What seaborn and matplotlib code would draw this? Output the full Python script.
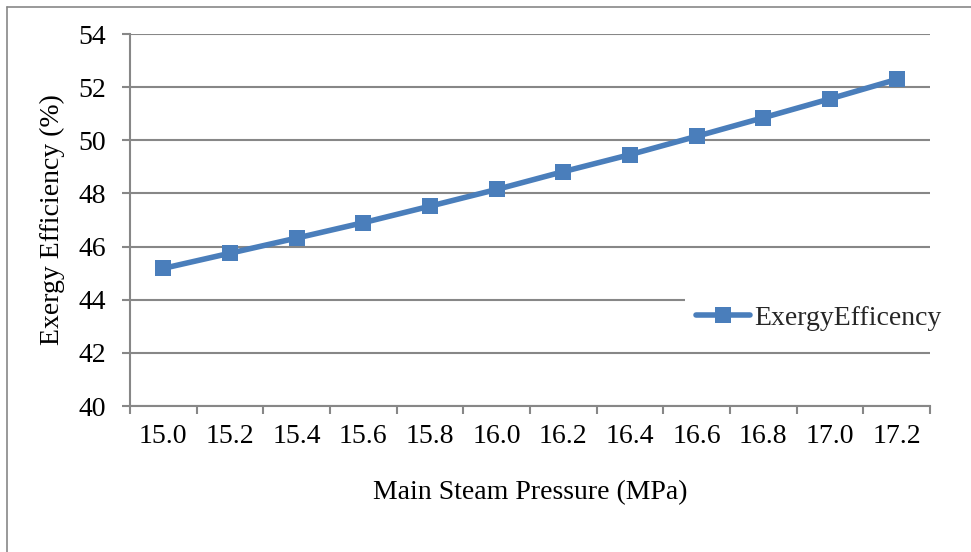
import matplotlib
matplotlib.use("Agg")
import matplotlib.pyplot as plt
from matplotlib.lines import Line2D
from matplotlib.ticker import FixedLocator
import seaborn as sns
import pandas as pd

# Main steam pressure (MPa) and the resulting exergy efficiency (%)
pressure_labels = ["15.0", "15.2", "15.4", "15.6", "15.8", "16.0",
                   "16.2", "16.4", "16.6", "16.8", "17.0", "17.2"]
exergy_efficiency = [45.18, 45.75, 46.32, 46.90, 47.52, 48.15,
                     48.82, 49.46, 50.15, 50.85, 51.56, 52.29]
y_ticks = [40, 42, 44, 46, 48, 50, 52, 54]

df = pd.DataFrame({"pressure": pressure_labels,
                   "efficiency": exergy_efficiency})

sns.set_theme(style="white")
plt.rcParams["font.family"] = ["Liberation Serif", "DejaVu Serif"]

GRAY = "#878787"
BLUE = "#4a7ebb"
FS = 20

fig = plt.figure(figsize=(9.71, 5.52), dpi=100)
ax = fig.add_axes([130 / 971, 1 - 406 / 552, 800 / 971, 372 / 552])

sns.lineplot(data=df, x="pressure", y="efficiency", ax=ax, color=BLUE,
             linewidth=4, marker="s", markersize=11, markeredgewidth=0,
             label="ExergyEfficency", sort=False, zorder=3)

ax.set_ylim(40, 54)
ax.set_xlim(-0.5, len(pressure_labels) - 0.5)
ax.set_yticks(y_ticks)
ax.set_yticklabels([str(v) for v in y_ticks])
ax.set_xticks(range(len(pressure_labels)))
ax.set_xticklabels(pressure_labels)
ax.xaxis.set_minor_locator(FixedLocator([i - 0.5 for i in range(len(pressure_labels) + 1)]))

ax.grid(axis="y", color=GRAY, linewidth=1.5, zorder=0)
ax.grid(axis="x", visible=False)
for side in ("top", "right"):
    ax.spines[side].set_visible(False)
for side in ("left", "bottom"):
    ax.spines[side].set_color(GRAY)
    ax.spines[side].set_linewidth(1.5)

ax.tick_params(axis="y", which="major", direction="out", length=6, width=1.5,
               color=GRAY, labelsize=FS, labelcolor="black", pad=11, left=True)
ax.tick_params(axis="x", which="major", length=0, labelsize=FS,
               labelcolor="black", pad=13)
ax.tick_params(axis="x", which="minor", direction="out", length=6, width=1.5,
               color=GRAY, bottom=True)

ax.set_xlabel("Main Steam Pressure (MPa)", fontsize=FS, color="black", labelpad=22)
ax.set_ylabel("Exergy Efficiency (%)", fontsize=FS, color="black", labelpad=10)

leg = ax.legend(loc="center left", bbox_to_anchor=((685 - 130) / 800, (406 - 318) / 372),
                frameon=True, fontsize=FS, handlelength=1.95, handletextpad=0.15,
                borderpad=0.4, borderaxespad=0, fancybox=False)
leg.get_frame().set_facecolor("white")
leg.get_frame().set_edgecolor("none")
leg.get_frame().set_alpha(1.0)
leg.set_zorder(5)

# Chart-area border along the top and left edges
fig.add_artist(Line2D([7 / 971, 1.0], [1 - 7 / 552, 1 - 7 / 552],
                      transform=fig.transFigure, color=GRAY, linewidth=1.2))
fig.add_artist(Line2D([7 / 971, 7 / 971], [0.0, 1 - 7 / 552],
                      transform=fig.transFigure, color=GRAY, linewidth=1.2))

fig.savefig("out.png", dpi=100)
